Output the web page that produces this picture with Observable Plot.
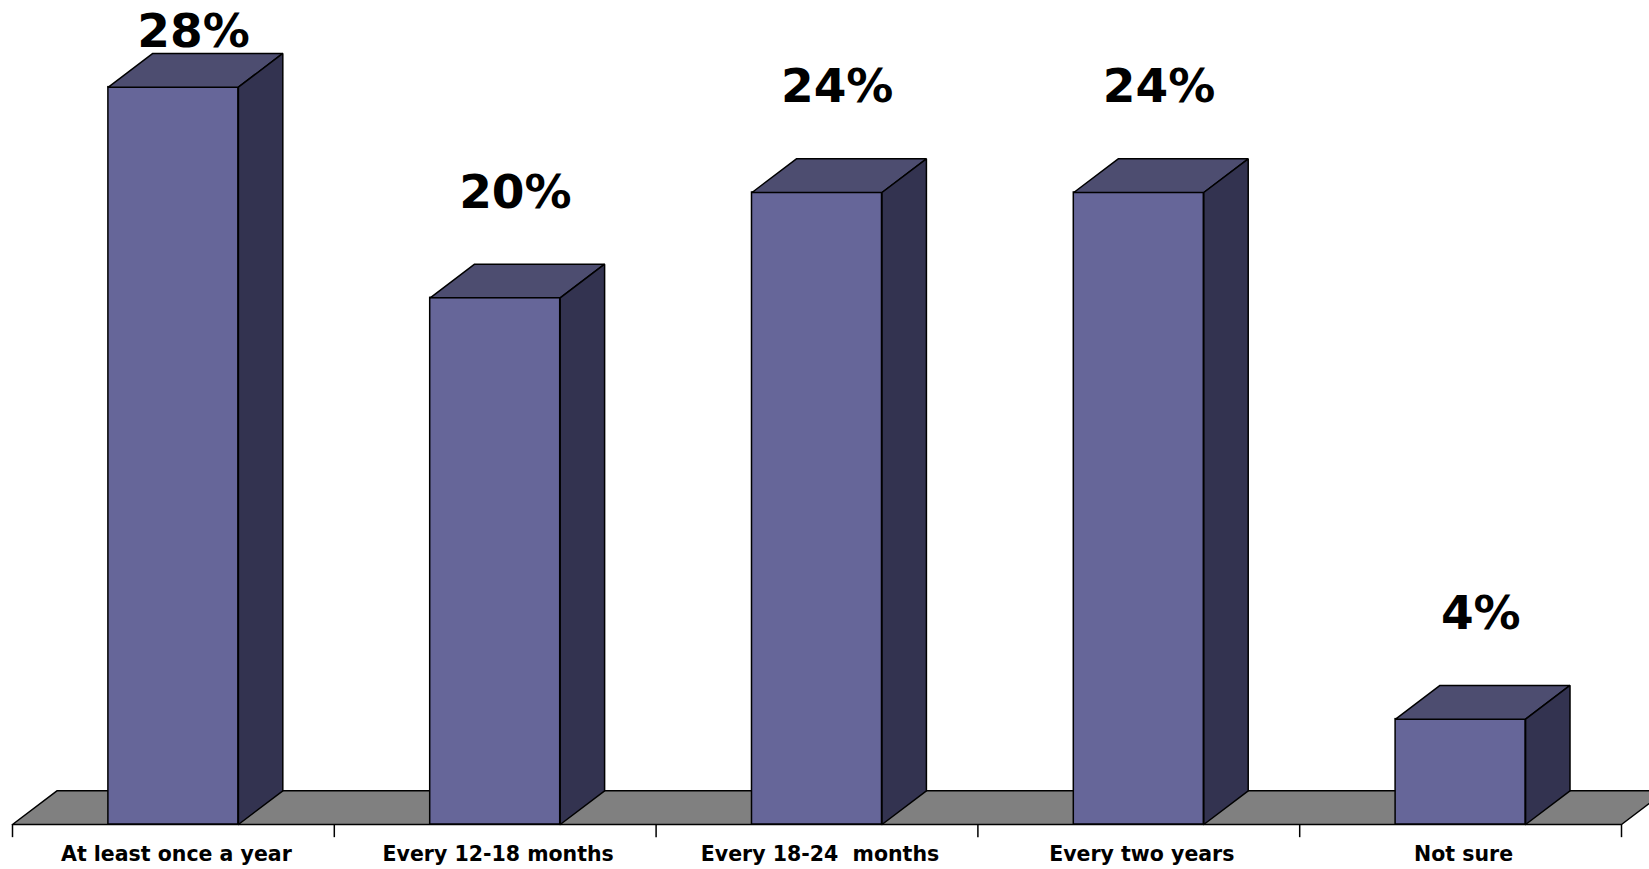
<!DOCTYPE html>
<html>
<head>
<meta charset="utf-8">
<script src="https://cdn.jsdelivr.net/npm/d3@7"></script>
<script src="https://cdn.jsdelivr.net/npm/@observablehq/plot@0.6"></script>
<style>
  html, body { margin: 0; padding: 0; background: #fff; overflow: hidden; }
  #chart { width: 1649px; height: 869px; overflow: hidden; }
  svg text { white-space: pre; }
</style>
</head>
<body>
<div id="chart"></div>
<script>
// ---- data ----
const categories = ["At least once a year", "Every 12-18 months", "Every 18-24  months", "Every two years", "Not sure"];
const values = [28, 20, 24, 24, 4];
const valueLabels = ["28%", "20%", "24%", "24%", "4%"];

// ---- geometry constants (in scale units) ----
const HALF = 0.202;      // half width of a bar's front face (category units)
const DX = 0.138;        // depth offset along x (category units)
const DY = 1.28;         // depth offset along y (percent units)
const LABEL_GAP = 4;     // label above bar
const LABEL_MAX = 30.1;  // labels kept inside the top

const frontColor = "#666699", topColor = "#4d4d70", sideColor = "#333350", floorColor = "#808080";

const bars = categories.map((c, i) => ({c, i, v: values[i], label: valueLabels[i],
  xc: i + 0.5, x1: i + 0.5 - HALF, x2: i + 0.5 + HALF}));

// polygons as point lists (closed)
const topFaces = bars.flatMap(b => [
  [b.x1, b.v], [b.x2, b.v], [b.x2 + DX, b.v + DY], [b.x1 + DX, b.v + DY], [b.x1, b.v]
].map(([x, y]) => ({x, y, z: b.i})));
const sideFaces = bars.flatMap(b => [
  [b.x2, 0], [b.x2 + DX, DY], [b.x2 + DX, b.v + DY], [b.x2, b.v], [b.x2, 0]
].map(([x, y]) => ({x, y, z: b.i})));
const n = categories.length;
const floorPoly = [[0, 0], [n, 0], [n + DX, DY], [DX, DY], [0, 0]].map(([x, y]) => ({x, y}));
const tickPos = d3.range(n + 1);

const chart = Plot.plot({
  width: 1649,
  height: 869,
  marginLeft: 12,
  marginRight: 28,
  marginTop: 34,
  marginBottom: 45,
  x: {domain: [0, n], axis: null},
  y: {domain: [0, 30], axis: null},
  style: {fontFamily: "'DejaVu Sans', Verdana, sans-serif", background: "#fff", overflow: "hidden"},
  marks: [
    Plot.line(floorPoly, {x: "x", y: "y", fill: floorColor, stroke: "#000", strokeWidth: 1.5, strokeLinejoin: "miter"}),
    Plot.rect(bars, {x1: "x1", x2: "x2", y1: 0, y2: "v", fill: frontColor, stroke: "#000", strokeWidth: 1.5}),
    Plot.line(topFaces, {x: "x", y: "y", z: "z", fill: topColor, stroke: "#000", strokeWidth: 1.5, strokeLinejoin: "miter"}),
    Plot.line(sideFaces, {x: "x", y: "y", z: "z", fill: sideColor, stroke: "#000", strokeWidth: 1.5, strokeLinejoin: "miter"}),
    Plot.ruleX(tickPos, {x: d => d, y1: 0, y2: -0.5, stroke: "#000", strokeWidth: 1.5}),
    Plot.text(bars, {x: "xc", frameAnchor: "bottom", dy: 36, text: "c", fontSize: 20.5, fontWeight: "bold", fill: "#000", dx: 3}),
    Plot.text(bars, {x: d => d.xc + DX / 2, y: d => Math.min(d.v + LABEL_GAP, LABEL_MAX), text: "label",
      fontSize: 47, fontWeight: "bold", fill: "#000", dx: -2})
  ]
});
document.getElementById("chart").appendChild(chart);
</script>
</body>
</html>
